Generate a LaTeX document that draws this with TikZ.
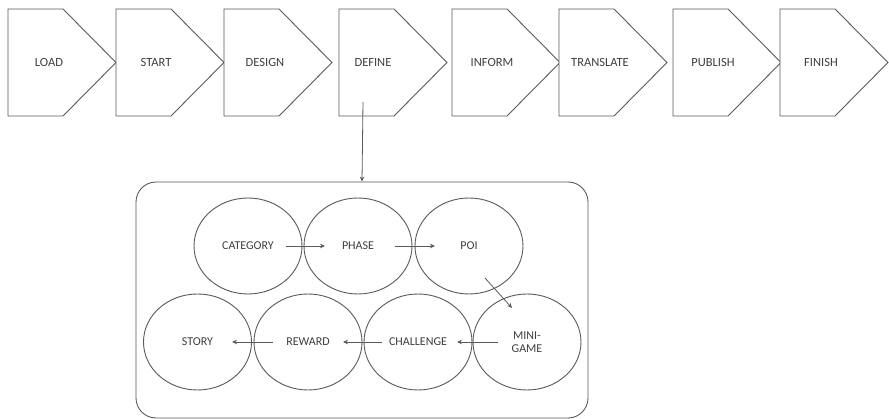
\documentclass[tikz,border=0pt]{standalone}
\usepackage{fontspec}
\setmainfont{Carlito}
\usetikzlibrary{shapes.geometric,arrows.meta,calc}
\definecolor{ln}{HTML}{5A5A5A}
\definecolor{tx}{HTML}{3F3F3F}
\begin{document}
\begin{tikzpicture}[x=1pt,y=-1pt,
  chev/.style={draw=ln,line width=0.9pt,line join=miter,fill=white},
  lbl/.style={text=tx,font=\fontsize{12.5}{14}\selectfont,inner sep=0pt},
  bubble/.style={ellipse,draw=ln,line width=0.9pt,minimum width=108pt,minimum height=96pt,inner sep=0pt,text=tx,font=\fontsize{12}{13.5}\selectfont,align=center},
  arr/.style={draw=ln,line width=0.8pt,-{Stealth[length=5pt,width=4.5pt]}},
  container/.style={draw=ln,line width=0.9pt,rounded corners=20pt,minimum width=452pt,minimum height=236pt,inner sep=0pt}]
\useasboundingbox (0,0) rectangle (889,419);
\fill[white] (0,0) rectangle (889,419);
% chevrons of the process
\foreach \l/\tx/\t/\n in {8/49/LOAD/load,116/156/START/start,224/265/DESIGN/design,339/373/DEFINE/define,452/492/INFORM/inform,559/600/TRANSLATE/translate,673/713/PUBLISH/publish,780/821/FINISH/finish}{
  \draw[chev] (\l,9) -- (\l+55,9) -- (\l+108,62.5) -- (\l+55,116) -- (\l,116) -- cycle;
  \node[lbl] (\n) at (\tx,62.5) {\t};
}
\coordinate (defsrc) at (363,102);
% container
\node[container] (box) at (362,300) {};
\draw[arr] (defsrc) -- (box.north);
% bubbles
\node[bubble] (cat) at (248,246) {CATEGORY};
\node[bubble] (phase) at (358,246) {PHASE};
\node[bubble] (poi) at (469,246) {POI};
\node[bubble] (story) at (197.5,342) {STORY};
\node[bubble] (reward) at (308,342) {REWARD};
\node[bubble] (chal) at (418,342) {CHALLENGE};
\node[bubble] (mini) at (527,342) {MINI-\\GAME};
% connectors
\draw[arr] ([xshift=38pt]cat.center) -- ([xshift=-33pt]phase.center);
\draw[arr] ([xshift=37pt]phase.center) -- ([xshift=-34pt]poi.center);
\draw[arr] ($(poi.center)+(16,32)$) -- ($(mini.center)+(-15,-34)$);
\draw[arr] ([xshift=-29pt]mini.center) -- ([xshift=39pt]chal.center);
\draw[arr] ([xshift=-36pt]chal.center) -- ([xshift=35pt]reward.center);
\draw[arr] ([xshift=-35pt]reward.center) -- ([xshift=34.5pt]story.center);
\end{tikzpicture}
\end{document}
